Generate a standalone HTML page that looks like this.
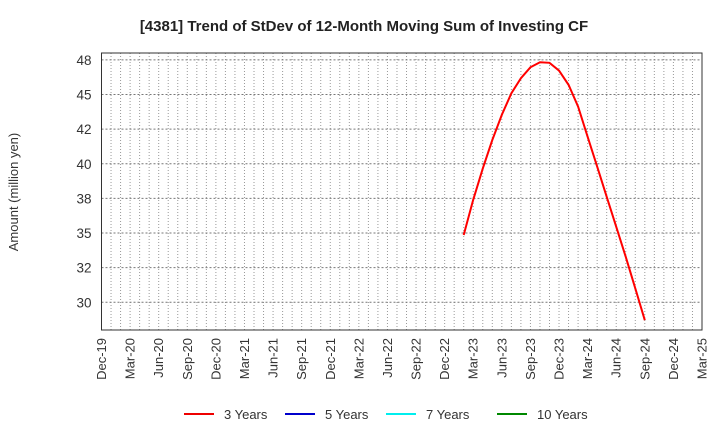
<!DOCTYPE html>
<html><head><meta charset="utf-8"><style>
body{margin:0;background:#fff;font-family:"Liberation Sans",sans-serif;}
</style></head><body>
<svg id="chart" width="720" height="440" xmlns="http://www.w3.org/2000/svg" font-family="Liberation Sans, sans-serif">
<text x="364" y="31" text-anchor="middle" font-size="15" font-weight="bold" fill="#222">[4381]  Trend of StDev of 12-Month Moving Sum of Investing CF</text>
<text transform="translate(18,192) rotate(-90)" text-anchor="middle" font-size="13" fill="#333">Amount (million yen)</text>
<g id="grid"></g>
<g id="axes"></g>
<g id="series"></g>
<g id="legend"></g>
</svg>
<script>
const xTickLabels=["Dec-19","Mar-20","Jun-20","Sep-20","Dec-20","Mar-21","Jun-21","Sep-21","Dec-21","Mar-22","Jun-22","Sep-22","Dec-22","Mar-23","Jun-23","Sep-23","Dec-23","Mar-24","Jun-24","Sep-24","Dec-24","Mar-25"];
const yTicks=[30,32.5,35,37.5,40,42.5,45,47.5];
const yTickLabels=["30","32","35","38","40","42","45","48"];
const startMonth=38; // Feb-23, months since Dec-19
const values3y=[34.86,37.4,39.67,41.72,43.53,45.1,46.18,46.97,47.33,47.29,46.73,45.7,44.13,41.96,39.79,37.62,35.46,33.29,31.0,28.71];
const legendNames=["3 Years","5 Years","7 Years","10 Years"];
const legendColors=["#e00","#00c","#0ee","#080"];

const L=101.5,R=702,T=53,B=330,yMin=28,yMax=48,totalMonths=63;
const NS="http://www.w3.org/2000/svg";
const xs=m=>L+(R-L)*m/totalMonths;
const ys=v=>B-(B-T)*(v-yMin)/(yMax-yMin);
function mk(tag,attrs,parent){const e=document.createElementNS(NS,tag);for(const k in attrs)e.setAttribute(k,attrs[k]);parent.appendChild(e);return e;}
const grid=document.getElementById('grid'),axes=document.getElementById('axes'),series=document.getElementById('series'),legend=document.getElementById('legend');
for(let m=1;m<totalMonths;m++){
  const l=mk('line',{x1:xs(m),x2:xs(m),y1:T,y2:B,stroke:'#999','stroke-width':1,'stroke-dasharray':'1,2'},grid);
  
  
}
yTicks.forEach((v,i)=>{
  const l=mk('line',{x1:L,x2:R,y1:ys(v),y2:ys(v),stroke:'#777','stroke-width':1,'stroke-dasharray':'2,2'},grid);
  
  
  const t=mk('text',{x:L-10,y:ys(v)+5,'text-anchor':'end','font-size':13.5,fill:'#333'},axes);
  t.textContent=yTickLabels[i];
  
  
});
xTickLabels.forEach((s,i)=>{
  const x=xs(i*3);
  const t=mk('text',{transform:`translate(${x+4.5},${B+8}) rotate(-90)`,'text-anchor':'end','font-size':13,fill:'#333'},axes);
  t.textContent=s;
  
  
});
const frame=mk('rect',{x:L,y:T,width:R-L,height:B-T,fill:'none',stroke:'#333','stroke-width':1},axes);


const pts=values3y.map((v,i)=>xs(startMonth+i).toFixed(1)+','+ys(v).toFixed(1)).join(' ');
const pl=mk('polyline',{points:pts,fill:'none',stroke:'#f00','stroke-width':2},series);


const lx=[184,285,386,497];
legendNames.forEach((n,i)=>{
  const g=mk('g',{},legend);
  
  
  mk('line',{x1:lx[i],x2:lx[i]+30,y1:414,y2:414,stroke:legendColors[i],'stroke-width':2},g);
  const t=mk('text',{x:lx[i]+40,y:419,'font-size':13,fill:'#333'},g);
  t.textContent=n;
});
</script>
</body></html>
